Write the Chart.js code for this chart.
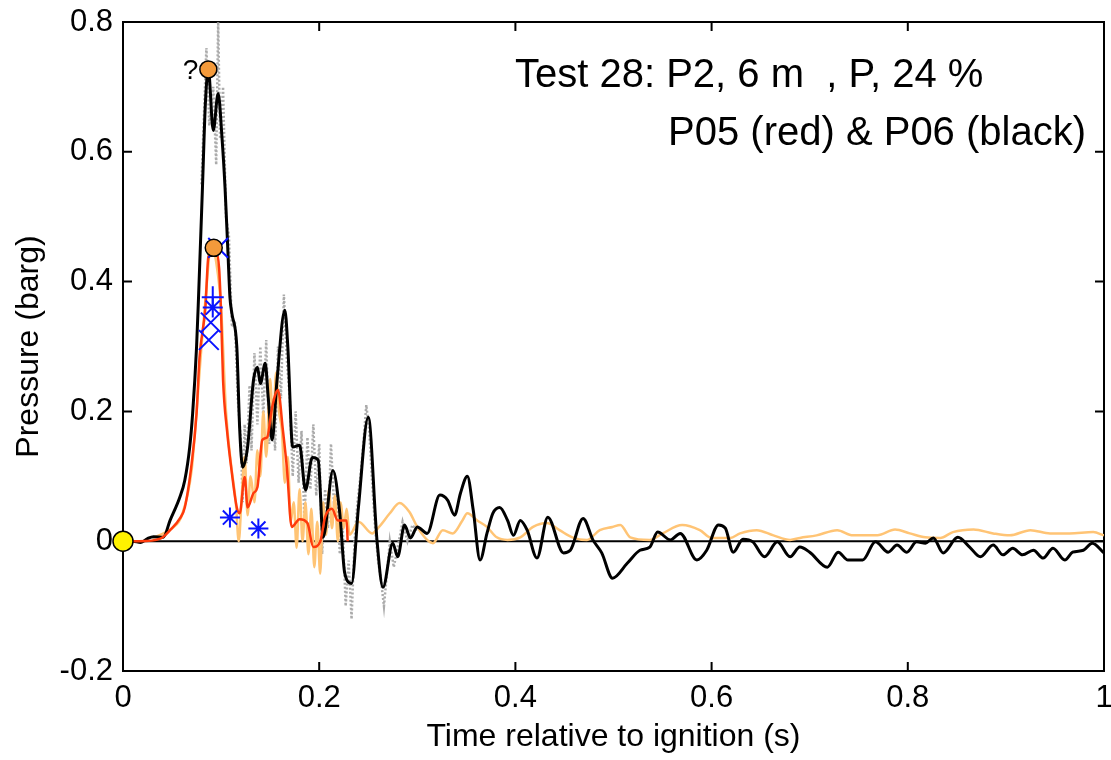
<!DOCTYPE html>
<html lang="en">
<head>
  <meta charset="UTF-8" />
  <title>Test 28 - P05 / P06</title>
  <script src="https://cdn.jsdelivr.net/npm/chart.js"></script>
  <style>
    html, body {
      margin: 0;
      padding: 0;
      background: #fff;
      overflow: hidden;
    }

    /* 9px wider than the window: the library keeps a right margin for the last tick label */
    .lienzo {
      width: 1120px;
      height: 760px;
      position: relative;
    }

    canvas {
      display: block;
    }
  </style>
</head>
<body>
  <div class="lienzo">
    <canvas id="graficoPresion"></canvas>
  </div>

  <script>
    // ticks
    const xTicks = [0, 0.2, 0.4, 0.6, 0.8, 1];
    const yTicks = [-0.2, 0, 0.2, 0.4, 0.6, 0.8];

    // P06 filtered (black)
    const p06Time = [0, 0.010, 0.018, 0.025, 0.031, 0.041, 0.048, 0.058, 0.063, 0.068, 0.071, 0.075, 0.077, 0.081, 0.084, 0.087, 0.092, 0.097, 0.101, 0.104, 0.107, 0.109, 0.111, 0.116, 0.119, 0.122, 0.127, 0.133, 0.137, 0.140, 0.145, 0.148, 0.152, 0.157, 0.165, 0.168, 0.173, 0.180, 0.186, 0.193, 0.199, 0.204, 0.214, 0.221, 0.226, 0.233, 0.240, 0.250, 0.259, 0.265, 0.275, 0.280, 0.287, 0.293, 0.300, 0.310, 0.323, 0.331, 0.338, 0.344, 0.351, 0.357, 0.364, 0.371, 0.377, 0.384, 0.392, 0.398, 0.405, 0.412, 0.422, 0.433, 0.449, 0.456, 0.469, 0.479, 0.488, 0.499, 0.514, 0.527, 0.537, 0.545, 0.558, 0.568, 0.585, 0.595, 0.607, 0.614, 0.622, 0.632, 0.642, 0.654, 0.667, 0.680, 0.690, 0.700, 0.718, 0.729, 0.739, 0.754, 0.767, 0.780, 0.789, 0.799, 0.809, 0.818, 0.826, 0.836, 0.851, 0.863, 0.874, 0.887, 0.897, 0.907, 0.917, 0.928, 0.938, 0.948, 0.960, 0.968, 0.979, 0.988, 1.0];
    const p06Pressure = [0, 0, -0.002, 0.004, 0.007, 0.006, 0.032, 0.068, 0.094, 0.145, 0.197, 0.30, 0.376, 0.545, 0.675, 0.726, 0.633, 0.69, 0.62, 0.545, 0.444, 0.376, 0.351, 0.30, 0.171, 0.114, 0.145, 0.248, 0.268, 0.243, 0.274, 0.222, 0.156, 0.248, 0.356, 0.30, 0.145, 0.148, 0.079, 0.129, 0.125, 0.006, 0.109, 0.043, -0.049, -0.065, 0.052, 0.191, 0.0, -0.071, -0.003, -0.024, 0.025, 0.005, 0.022, 0.012, 0.071, 0.063, 0.04, 0.074, 0.10, 0.048, -0.029, 0.012, 0.043, 0.052, 0.032, 0.009, 0.032, 0.017, -0.026, 0.037, -0.018, -0.014, 0.035, 0.002, -0.018, -0.057, -0.034, -0.014, -0.009, 0.014, 0.002, 0.012, -0.029, -0.014, 0.025, 0.02, -0.017, 0.003, -0.001, -0.024, -0.001, -0.024, -0.009, -0.017, -0.04, -0.017, -0.029, -0.029, -0.001, -0.017, -0.006, -0.017, -0.001, -0.003, 0.005, -0.018, 0.006, -0.009, -0.024, -0.006, -0.021, -0.011, -0.021, -0.014, -0.026, -0.011, -0.029, -0.017, -0.014, -0.003, -0.018];

    // P06 raw (grey dots)
    const p06RawTime = [0.080, 0.085, 0.088, 0.092, 0.095, 0.097, 0.099, 0.102, 0.105, 0.108, 0.111, 0.114, 0.117, 0.120, 0.122, 0.124, 0.126, 0.129, 0.131, 0.134, 0.137, 0.140, 0.143, 0.146, 0.149, 0.152, 0.155, 0.158, 0.161, 0.164, 0.167, 0.170, 0.173, 0.176, 0.179, 0.182, 0.185, 0.188, 0.191, 0.194, 0.197, 0.200, 0.203, 0.206, 0.209, 0.212, 0.215, 0.218, 0.221, 0.224, 0.227, 0.230, 0.233, 0.236, 0.239, 0.242, 0.245, 0.248, 0.251, 0.254, 0.257, 0.260, 0.263, 0.266, 0.269, 0.272, 0.276, 0.280, 0.285, 0.290, 0.295, 0.300];
    const p06RawPressure = [0.55, 0.76, 0.64, 0.70, 0.58, 0.80, 0.62, 0.70, 0.50, 0.47, 0.33, 0.34, 0.22, 0.16, 0.06, 0.18, 0.12, 0.24, 0.14, 0.29, 0.18, 0.30, 0.19, 0.31, 0.15, 0.22, 0.14, 0.30, 0.22, 0.38, 0.28, 0.22, 0.10, 0.20, 0.09, 0.17, 0.03, 0.16, 0.08, 0.18, 0.07, 0.15, -0.02, 0.08, 0.02, 0.15, 0.06, 0.08, -0.02, 0.02, -0.10, -0.03, -0.12, 0.00, 0.06, 0.10, 0.15, 0.21, 0.17, 0.09, 0.02, -0.03, -0.06, -0.10, -0.05, 0.00, -0.04, -0.01, 0.03, 0.00, 0.025, 0.015];

    // P05 filtered (red)
    const p05Time = [0, 0.017, 0.038, 0.048, 0.058, 0.063, 0.070, 0.075, 0.078, 0.084, 0.087, 0.091, 0.095, 0.098, 0.100, 0.102, 0.106, 0.111, 0.116, 0.119, 0.124, 0.127, 0.133, 0.137, 0.142, 0.147, 0.152, 0.158, 0.163, 0.167, 0.172, 0.180, 0.188, 0.194, 0.201, 0.206, 0.213, 0.219, 0.228, 0.229];
    const p05Pressure = [0, 0, 0.004, 0.017, 0.035, 0.052, 0.12, 0.197, 0.283, 0.36, 0.438, 0.446, 0.445, 0.42, 0.35, 0.248, 0.171, 0.105, 0.052, 0.043, 0.099, 0.052, 0.074, 0.083, 0.156, 0.16, 0.206, 0.233, 0.171, 0.114, 0.022, 0.034, 0.028, -0.009, -0.001, 0.037, 0.05, 0.032, 0.032, 0.0];

    // P05 raw (light orange)
    const p05RawTime = [0.030, 0.050, 0.060, 0.070, 0.075, 0.080, 0.085, 0.090, 0.095, 0.100, 0.105, 0.110, 0.115, 0.118, 0.121, 0.124, 0.127, 0.130, 0.134, 0.137, 0.140, 0.143, 0.146, 0.150, 0.153, 0.156, 0.159, 0.162, 0.165, 0.168, 0.171, 0.174, 0.177, 0.180, 0.183, 0.186, 0.189, 0.192, 0.195, 0.198, 0.201, 0.204, 0.207, 0.210, 0.213, 0.216, 0.219, 0.222, 0.225, 0.228, 0.231, 0.240, 0.254, 0.261, 0.272, 0.282, 0.292, 0.300, 0.310, 0.316, 0.326, 0.336, 0.346, 0.351, 0.361, 0.371, 0.381, 0.392, 0.405, 0.418, 0.432, 0.445, 0.458, 0.473, 0.486, 0.499, 0.507, 0.517, 0.537, 0.550, 0.570, 0.588, 0.600, 0.619, 0.629, 0.646, 0.663, 0.680, 0.690, 0.707, 0.728, 0.744, 0.769, 0.787, 0.802, 0.818, 0.833, 0.846, 0.867, 0.887, 0.904, 0.925, 0.945, 0.965, 0.989, 1.0];
    const p05RawPressure = [0.005, 0.02, 0.04, 0.11, 0.2, 0.3, 0.39, 0.46, 0.43, 0.36, 0.2, 0.12, 0.06, 0.0, 0.07, 0.13, 0.04, 0.1, 0.06, 0.14, 0.1, 0.2, 0.13, 0.25, 0.17, 0.26, 0.2, 0.17, 0.09, 0.13, 0.03, 0.06, -0.01, 0.08, 0.0, 0.06, -0.02, 0.05, -0.04, 0.03, -0.05, 0.06, 0.01, 0.08, 0.02, 0.07, 0.0, 0.06, 0.02, 0.05, 0.01, 0.03, 0.012, 0.022, 0.043, 0.059, 0.045, 0.022, 0.002, -0.003, 0.017, 0.012, 0.032, 0.043, 0.032, 0.022, 0.006, 0.002, 0.006, 0.022, 0.028, 0.017, 0.006, 0.002, 0.017, 0.022, 0.025, 0.006, 0.002, 0.012, 0.025, 0.017, 0.005, 0.005, 0.012, 0.017, 0.009, 0.002, 0.005, 0.009, 0.017, 0.009, 0.009, 0.018, 0.012, 0.006, 0.005, 0.014, 0.018, 0.012, 0.009, 0.017, 0.012, 0.012, 0.014, 0.009];

    // markers
    const ignitionTime = [0];
    const ignitionValue = [0];
    const peakTime = [0.087, 0.0925];
    const peakValue = [0.727, 0.452];
    const plusTime = [0.0915];
    const plusValue = [0.376];
    const starTime = [0.0915, 0.109, 0.138];
    const starValue = [0.360, 0.0365, 0.0195];
    const crossTime = [0.097, 0.0895, 0.0875];
    const crossValue = [0.452, 0.337, 0.310];

    const pares = (t, v) => t.map((x, i) => ({ x: x, y: v[i] }));

    const fuente = "'Liberation Sans', Arial, sans-serif";
    Chart.defaults.font.family = fuente;
    Chart.defaults.color = '#000';

    const marco = {
      id: 'marco',
      beforeDatasetsDraw(chart) {
        const { ctx, chartArea: a, scales: { x, y } } = chart;
        ctx.save();
        ctx.strokeStyle = '#000';
        ctx.lineWidth = 2;
        ctx.strokeRect(a.left, a.top, a.right - a.left, a.bottom - a.top);
        ctx.beginPath();
        xTicks.forEach(v => {
          const px = x.getPixelForValue(v);
          ctx.moveTo(px, a.bottom); ctx.lineTo(px, a.bottom - 9);
          ctx.moveTo(px, a.top); ctx.lineTo(px, a.top + 9);
        });
        yTicks.forEach(v => {
          const py = y.getPixelForValue(v);
          ctx.moveTo(a.left, py); ctx.lineTo(a.left + 9, py);
          ctx.moveTo(a.right, py); ctx.lineTo(a.right - 9, py);
        });
        ctx.stroke();
        // linea de cero
        ctx.beginPath();
        const y0 = y.getPixelForValue(0);
        ctx.moveTo(a.left, y0);
        ctx.lineTo(a.right, y0);
        ctx.stroke();
        ctx.restore();
      },
      afterDraw(chart) {
        const { ctx, scales: { x, y } } = chart;
        ctx.save();
        ctx.fillStyle = '#000';
        ctx.font = '40px ' + fuente;
        ctx.textBaseline = 'alphabetic';
        ctx.textAlign = 'left';
        ctx.fillText('Test 28: P2, 6 m  , P, 24 %', 515, 87);
        ctx.textAlign = 'right';
        ctx.fillText('P05 (red) & P06 (black)', 1086, 145);
        ctx.font = '28px ' + fuente;
        ctx.fillText('?', x.getPixelForValue(peakTime[0]) - 10, y.getPixelForValue(peakValue[0]) + 10);
        ctx.restore();
      }
    };

    const ctx = document.getElementById('graficoPresion').getContext('2d');

    new Chart(ctx, {
      type: 'line',
      data: {
        datasets: [
          {
            label: 'Ignition',
            data: pares(ignitionTime, ignitionValue),
            showLine: false,
            pointStyle: 'circle',
            pointRadius: 10,
            backgroundColor: '#FFF200',
            borderColor: '#000',
            borderWidth: 1.5,
            clip: false,
            order: 0
          },
          {
            label: 'Peaks',
            data: pares(peakTime, peakValue),
            showLine: false,
            pointStyle: 'circle',
            pointRadius: 8.5,
            backgroundColor: '#F39A3B',
            borderColor: '#000',
            borderWidth: 1.5,
            order: 1
          },
          {
            label: 'Plus',
            data: pares(plusTime, plusValue),
            showLine: false,
            pointStyle: 'cross',
            pointRadius: 11,
            borderColor: '#0A14FF',
            borderWidth: 2,
            order: 2
          },
          {
            label: 'Stars',
            data: pares(starTime, starValue),
            showLine: false,
            pointStyle: 'star',
            pointRadius: 10,
            borderColor: '#0A14FF',
            borderWidth: 2,
            order: 2
          },
          {
            label: 'Crosses',
            data: pares(crossTime, crossValue),
            showLine: false,
            pointStyle: 'crossRot',
            pointRadius: 14,
            borderColor: '#0A14FF',
            borderWidth: 2,
            order: 3
          },
          {
            label: 'P05',
            data: pares(p05Time, p05Pressure),
            borderColor: '#FF3A0C',
            borderWidth: 2.5,
            pointRadius: 0,
            cubicInterpolationMode: 'monotone',
            order: 4
          },
          {
            label: 'P06',
            data: pares(p06Time, p06Pressure),
            borderColor: '#000',
            borderWidth: 3,
            pointRadius: 0,
            cubicInterpolationMode: 'monotone',
            order: 5
          },
          {
            label: 'P05 raw',
            data: pares(p05RawTime, p05RawPressure),
            borderColor: '#FFC475',
            borderWidth: 2.5,
            pointRadius: 0,
            cubicInterpolationMode: 'monotone',
            order: 6
          },
          {
            label: 'P06 raw',
            data: pares(p06RawTime, p06RawPressure),
            borderColor: '#ABABAB',
            borderWidth: 2.5,
            borderDash: [2, 2],
            pointRadius: 0,
            tension: 0,
            order: 7
          }
        ]
      },
      options: {
        responsive: true,
        maintainAspectRatio: false,
        animation: false,
        events: [],
        layout: {
          padding: { left: 0, right: 7, top: 22, bottom: 0 }
        },
        plugins: {
          legend: { display: false },
          tooltip: { enabled: false }
        },
        scales: {
          x: {
            type: 'linear',
            min: 0,
            max: 1,
            afterBuildTicks: s => { s.ticks = xTicks.map(v => ({ value: v })); },
            afterFit: s => { s.height = 89; s.paddingLeft = 0; s.paddingRight = 0; },
            grid: { display: false, drawTicks: true, tickLength: 9 },
            border: { display: false },
            ticks: {
              padding: 0,
              maxRotation: 0,
              font: { size: 31 },
              callback: v => String(Math.round(v * 10) / 10)
            },
            title: {
              display: true,
              text: 'Time relative to ignition (s)',
              font: { size: 32 },
              padding: { top: 0, bottom: 4 }
            }
          },
          y: {
            min: -0.2,
            max: 0.8,
            afterBuildTicks: s => { s.ticks = yTicks.map(v => ({ value: v })); },
            afterFit: s => { s.width = 123; s.paddingTop = 0; s.paddingBottom = 0; },
            grid: { display: false, drawTicks: false },
            border: { display: false },
            ticks: {
              padding: 10,
              font: { size: 31 },
              callback: v => String(Math.round(v * 10) / 10)
            },
            title: {
              display: true,
              text: 'Pressure (barg)',
              font: { size: 32 },
              padding: { top: 10, bottom: 0 }
            }
          }
        }
      },
      plugins: [marco]
    });
  </script>
</body>
</html>
